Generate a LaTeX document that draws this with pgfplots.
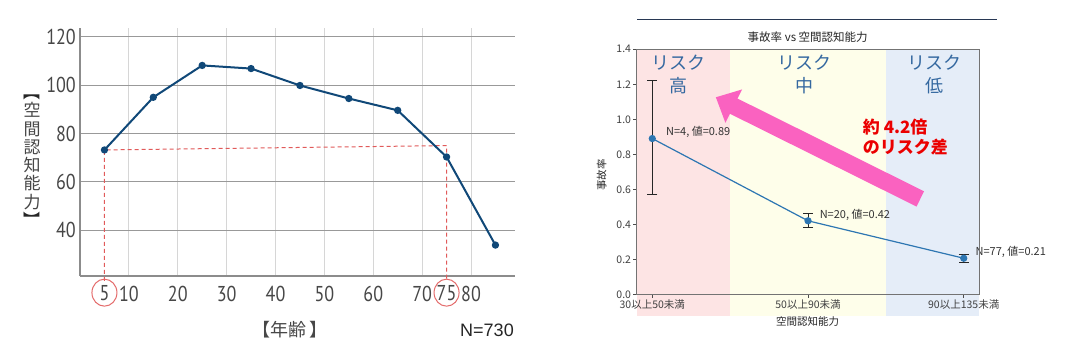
\documentclass[border=0pt]{standalone}
\usepackage{pgfplots}
\pgfplotsset{compat=1.18}
\usetikzlibrary{arrows.meta}
\usepackage{fontspec}
\setmainfont{Noto Sans CJK JP}
\newfontfamily\cjk{Noto Sans CJK JP}
\newfontfamily\din[FakeStretch=0.84]{PT Sans}
\newfontfamily\nfont{Liberation Sans}
\definecolor{navy}{RGB}{16,72,120}
\definecolor{dashred}{RGB}{225,90,90}
\definecolor{mplblue}{RGB}{45,118,178}
\definecolor{pinkband}{RGB}{253,228,228}
\definecolor{yelband}{RGB}{254,254,234}
\definecolor{bluband}{RGB}{229,237,248}
\definecolor{riskblue}{RGB}{52,104,160}
\definecolor{arrowpink}{RGB}{250,98,192}
\definecolor{sepnavy}{RGB}{40,56,84}
\begin{document}
\begin{tikzpicture}[x=1pt,y=1pt]
\path[fill=white] (0,0) rectangle (1066,364);
% ---------------- left chart ----------------
\begin{axis}[at={(80pt,88pt)},anchor=south west,scale only axis,
  width=435pt,height=248pt,
  xmin=0,xmax=89,ymin=21,ymax=123.7,
  axis x line*=bottom, axis y line*=left,
  axis line style={draw=black!45, line width=1.6pt,-},
  xtick={10,20,...,80}, ytick={40,60,...,120},
  extra x ticks={5,75}, extra x tick style={grid=none},
  xmajorgrids, ymajorgrids,
  x grid style={draw=black!16, line width=0.9pt},
  y grid style={draw=black!40, line width=1.1pt},
  major tick length=0pt,
  tick label style={font=\din\fontsize{21.5}{22}\selectfont, text=black!72, inner sep=1pt},
  xticklabel style={yshift=-8.5pt},
  yticklabel style={xshift=-3pt},
  /pgf/number format/assume math mode=true,
  clip=false]
\addplot[color=dashred, line width=1pt, dash pattern=on 4pt off 3pt] coordinates {(5,19) (5,73.2) (75,75) (75,19)};
\addplot[color=navy, line width=2pt, mark=*, mark size=2.6pt] coordinates {
(5,73.2) (15,95) (25,108.2) (35,106.9) (45,99.9) (55,94.5) (65,89.6) (75,70.3) (85,33.8)};
\draw[color=dashred!90, line width=1pt] (axis cs:5,14.1) ellipse[x radius=12.5pt, y radius=13.5pt];
\draw[color=dashred!90, line width=1pt] (axis cs:75,14.1) ellipse[x radius=12.5pt, y radius=13.5pt];
\end{axis}
\node[font=\cjk\fontsize{17}{18.3}\selectfont, align=center, text=black!72, inner sep=0pt] at (32,208) {\textcolor{black!85}{\rotatebox[origin=c]{-90}{【}}\\空\\間\\認\\知\\能\\力\\\textcolor{black!85}{\rotatebox[origin=c]{-90}{】}}};
\node[font=\cjk\fontsize{18}{20}\selectfont, text=black!72] at (290,34) {【年齢\,】};
\node[font=\nfont\fontsize{18}{20}\selectfont, text=black!85] at (487,34) {N=730};
% ---------------- right chart ----------------
\draw[sepnavy, line width=1pt] (637,344) -- (996.7,344);
\node[font=\fontsize{11.5}{12}\selectfont, text=black!85] at (807.7,327.3) {事故率 vs 空間認知能力};
\begin{axis}[at={(636.7pt,69.7pt)},anchor=south west,scale only axis,
  width=342.6pt,height=245pt,
  xmin=-0.1,xmax=2.1,ymin=0,ymax=1.4,
  xtick={0,1,2}, xticklabels={30以上50未満,50以上90未満,90以上135未満},
  ytick={0,0.2,...,1.4},
  yticklabel style={/pgf/number format/.cd,fixed,fixed zerofill,precision=1},
  tick align=outside, major tick length=3.5pt, tick style={black!70, line width=0.6pt},
  tick pos=left,
  axis line style={black!55, line width=0.7pt},
  tick label style={font=\fontsize{10.5}{11}\selectfont, text=black!75, inner sep=2pt},
  /pgf/number format/assume math mode=true,
  axis on top, clip=false]
\addplot[draw=none, fill=pinkband] coordinates {(-0.1,-0.125) (0.5,-0.125) (0.5,1.4) (-0.1,1.4)} -- cycle;
\addplot[draw=none, fill=yelband] coordinates {(0.5,-0.125) (1.5,-0.125) (1.5,1.4) (0.5,1.4)} -- cycle;
\addplot[draw=none, fill=bluband] coordinates {(1.5,-0.125) (2.1,-0.125) (2.1,1.4) (1.5,1.4)} -- cycle;
\addplot[color=mplblue, line width=1.2pt, mark=*, mark size=3pt, mark options={fill=mplblue},
  error bars/.cd, y dir=both, y explicit,
  error bar style={black!85, line width=1pt},
  error mark options={rotate=90, black!85, line width=1pt, mark size=5pt}]
  coordinates {(0,0.89) += (0,0.33) -= (0,0.32) (1,0.42) +- (0,0.04) (2,0.206) +- (0,0.024)};
\node[anchor=west, font=\fontsize{11}{12}\selectfont, text=black!80] at (axis cs:0.066,0.927) {N=4, 値=0.89};
\node[anchor=west, font=\fontsize{11}{12}\selectfont, text=black!80] at (axis cs:1.053,0.453) {N=20, 値=0.42};
\node[anchor=west, font=\fontsize{11}{12}\selectfont, text=black!80] at (axis cs:2.054,0.24) {N=77, 値=0.21};
\node[align=center, font=\fontsize{18}{22.7}\selectfont, text=riskblue] at (axis cs:0.17,1.255) {リスク\\高};
\node[align=center, font=\fontsize{18}{22.7}\selectfont, text=riskblue] at (axis cs:0.98,1.255) {リスク\\中};
\node[align=center, font=\fontsize{18}{22.7}\selectfont, text=riskblue] at (axis cs:1.81,1.255) {リスク\\低};
\draw[arrowpink, line width=17pt, -{Triangle[length=20pt,width=36pt]}] (axis cs:1.721,0.545) -- (axis cs:0.408,1.126);
\node[anchor=west, align=left, font=\bfseries\fontsize{17}{20.6}\selectfont, text=red!92!black] at (axis cs:1.33,0.899) {約 4.2倍\\のリスク差};
\end{axis}
\node[font=\fontsize{10.5}{11}\selectfont, text=black!85] at (807.7,42.3) {空間認知能力};
\node[rotate=90, font=\fontsize{10.5}{11}\selectfont, text=black!85] at (601.7,189) {事故率};
\end{tikzpicture}
\end{document}
